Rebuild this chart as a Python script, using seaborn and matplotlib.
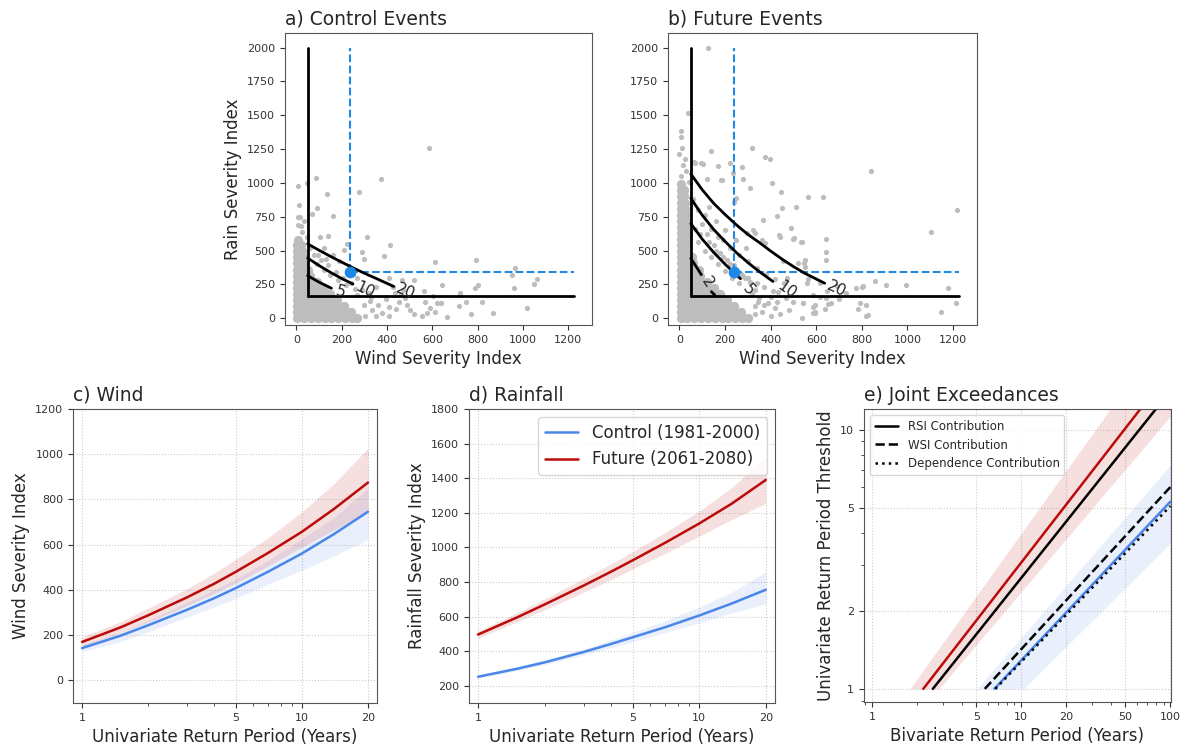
import seaborn as sns
import matplotlib.pyplot as plt
from matplotlib.ticker import FixedLocator, ScalarFormatter, NullFormatter

# ---------------- data ----------------
# a) control events: dense core near the origin, written row by row
#    (rain value -> wind values), drawn with bigger markers
ctrl_core = {
    0: [5, 35, 65, 95, 125, 155, 185, 215, 245, 270],
    45: [5, 35, 65, 95, 125, 155, 185, 215, 240],
    90: [5, 35, 65, 95, 125, 155, 185, 210],
    135: [5, 35, 65, 95, 125, 155, 180],
    180: [5, 35, 65, 95, 125, 150],
    225: [5, 35, 65, 95, 120],
    270: [5, 35, 65, 90],
    315: [5, 35, 60],
    360: [5, 30, 50],
    405: [5, 30],
    450: [5, 28],
    495: [5, 25],
    540: [5, 22],
    575: [8],
}
ctrl_outliers = [
    (584, 1256), (374, 1030), (88, 1039), (135, 916), (275, 931), (6, 980),
    (47, 1000), (91, 813), (70, 770), (162, 756), (6, 750), (8, 690), (20, 685),
    (106, 603), (312, 603), (415, 542), (385, 463), (289, 492), (300, 440),
    (209, 505), (224, 549), (142, 610), (610, 414), (793, 431), (966, 374),
    (951, 320), (959, 222), (1062, 288), (1050, 251), (1017, 74), (804, 246),
    (790, 222), (643, 244), (723, 185), (750, 123), (819, 123), (868, 41),
    (772, 32), (720, 93), (667, 12), (562, 204), (605, 167), (620, 111),
    (638, 115), (591, 74), (576, 41), (613, 49), (554, 17), (10, 837), (18, 751),
    (407, 296), (466, 283), (518, 283), (569, 123), (437, 185), (473, 209),
    (407, 86), (455, 120), (500, 60), (480, 150), (520, 30), (350, 230),
    (330, 160), (270, 300), (250, 330), (190, 420), (160, 470), (120, 520),
    (380, 40), (410, 15), (440, 70), (460, 180), (490, 100), (360, 100),
    (395, 140), (425, 230), (35, 720), (25, 640),
    (305, 20), (335, 60), (300, 100), (325, 130), (270, 170), (290, 210),
    (240, 260), (205, 300), (175, 345), (140, 390), (110, 430), (80, 470),
    (60, 520), (45, 600), (260, 215), (220, 245), (185, 280), (150, 320),
    (120, 360), (90, 400), (350, 20), (320, 190), (95, 470), (130, 440),
]

# b) future events
fut_core = {
    0: [5, 35, 65, 95, 125, 155, 185, 215, 245, 275, 300],
    45: [5, 35, 65, 95, 125, 155, 185, 215, 245, 270],
    90: [5, 35, 65, 95, 125, 155, 185, 215, 240],
    135: [5, 35, 65, 95, 125, 155, 185, 210],
    180: [5, 35, 65, 95, 125, 155, 180],
    225: [5, 35, 65, 95, 125, 150],
    270: [5, 35, 65, 95, 120],
    315: [5, 35, 65, 90],
    360: [5, 35, 60, 85],
    405: [5, 35, 60],
    450: [5, 32, 55],
    495: [5, 30],
    540: [5, 30],
    585: [5, 30],
    630: [5, 30],
    675: [5, 30],
    720: [5, 28],
    765: [5, 28],
    810: [5, 25],
    855: [5, 25],
    900: [5, 22],
    945: [5, 20],
    990: [8],
}
fut_outliers = [
    (127, 2000), (39, 1520), (7, 1387), (9, 1343), (0, 1214), (139, 1239),
    (317, 1256), (375, 1194), (395, 1175), (69, 1146), (104, 1141), (170, 1126),
    (221, 1146), (273, 1121), (234, 1076), (405, 998), (280, 1030), (123, 1030),
    (186, 1020), (241, 862), (445, 934), (565, 894), (628, 894), (840, 1091),
    (1105, 640), (1218, 800), (511, 820), (448, 813), (368, 727), (429, 756),
    (499, 584), (438, 616), (641, 584), (641, 488), (641, 431), (295, 628),
    (324, 650), (363, 578), (551, 431), (470, 296), (565, 288), (616, 259),
    (689, 239), (799, 229), (857, 276), (905, 246), (993, 246), (1178, 222),
    (1212, 115), (1146, 49), (791, 115), (818, 98), (818, 17), (828, 22),
    (663, 111), (640, 69), (594, 41), (536, 0), (587, 172), (647, 201),
    (536, 566), (546, 406), (558, 263), (774, 222), (806, 239), (785, 67),
    (701, 140), (653, 106), (616, 160), (587, 86), (587, 42), (543, 111),
    (729, 189), (308, 961), (250, 891), (488, 665), (502, 591), (440, 603),
    (532, 566), (374, 554), (333, 633), (454, 426), (520, 406), (549, 381),
    (286, 296), (432, 197), (469, 148), (389, 111), (418, 74), (542, 115),
    (593, 98), (593, 49), (644, 148), (64, 1157), (96, 1146), (181, 1022),
    (8, 1050), (30, 1090), (15, 1130), (40, 1010), (25, 1180), (12, 1260),
    (80, 560), (110, 500), (140, 450), (170, 400), (200, 350), (230, 300),
    (260, 260), (90, 620), (130, 560), (160, 500), (190, 450), (220, 400),
    (250, 350), (280, 310), (310, 270), (120, 620), (150, 540), (180, 480),
    (210, 430), (240, 390), (270, 330), (300, 300), (340, 260), (70, 660),
    (100, 700), (140, 660), (190, 580), (220, 520), (260, 470), (300, 420),
    (340, 370), (380, 330), (420, 290), (460, 260), (330, 210), (370, 230),
    (410, 200), (350, 150), (400, 160), (430, 120), (330, 90), (360, 50),
    (400, 20), (440, 30), (110, 760), (160, 720), (80, 800), (60, 880),
    (130, 820), (200, 650), (170, 600), (250, 580), (290, 520), (320, 180),
    (345, 120), (330, 30), (480, 60), (500, 120), (370, 100),
]

# threshold lines and design event
wsi_thr, rsi_thr = 50, 165
event_wsi, event_rsi = 238, 340
axis_max_wsi, axis_max_rsi = 1225, 2000

# joint return-period contours (label -> wind, rain)
ctrl_contours = {
    '5': ([50, 100, 155], [315, 267, 222]),
    '10': ([50, 100, 150, 200, 250], [445, 390, 340, 294, 253]),
    '20': ([50, 100, 150, 200, 250, 300, 350, 400, 430],
           [550, 503, 458, 415, 373, 333, 296, 258, 235]),
}
ctrl_labels = {'5': (194, 197, -15), '10': (304, 209, -25), '20': (484, 197, -22)}
fut_contours = {
    '2': ([50, 75, 96], [443, 378, 322]),
    '2b': ([140, 155], [197, 172]),
    '5': ([50, 100, 150, 200, 250, 268], [700, 585, 487, 400, 320, 292]),
    '10': ([50, 100, 150, 200, 250, 300, 350, 410],
           [887, 762, 657, 568, 485, 412, 345, 272]),
    '20': ([50, 100, 150, 200, 250, 300, 350, 400, 450, 500, 550, 600, 637],
           [1067, 950, 850, 767, 690, 620, 560, 497, 437, 382, 332, 290, 259]),
}
fut_labels = {'2': (123, 263, -55), '5': (301, 214, -50),
              '10': (469, 209, -35), '20': (688, 214, -25)}

# c) wind and d) rainfall return levels
periods = [1, 1.5, 2, 3, 4, 5, 7, 10, 14, 20]
wind_ctrl = [143, 198, 244, 312, 364, 408, 480, 561, 647, 746]
wind_ctrl_lo = [128, 172, 215, 280, 325, 363, 425, 487, 550, 623]
wind_ctrl_hi = [157, 212, 265, 345, 400, 448, 530, 625, 720, 850]
wind_fut = [170, 235, 288, 367, 428, 480, 563, 657, 758, 875]
wind_fut_lo = [150, 210, 258, 330, 385, 430, 505, 590, 665, 745]
wind_fut_hi = [192, 260, 320, 405, 475, 535, 630, 745, 870, 1027]

rain_ctrl = [252, 298, 335, 395, 442, 480, 538, 606, 675, 755]
rain_ctrl_lo = [242, 287, 322, 378, 420, 455, 507, 565, 620, 674]
rain_ctrl_hi = [262, 310, 350, 412, 465, 508, 575, 655, 740, 858]
rain_fut = [496, 595, 670, 779, 860, 925, 1026, 1138, 1252, 1390]
rain_fut_lo = [476, 570, 640, 740, 815, 875, 965, 1065, 1160, 1254]
rain_fut_hi = [516, 622, 702, 820, 905, 975, 1085, 1210, 1345, 1521]

# e) joint exceedances: (bivariate return period, univariate threshold)
fut_total = ([2.2, 62.9], [1, 12])
rsi_contrib = ([2.55, 80], [1, 12])
ctrl_total = ([6.6, 100], [1, 5.27])
wsi_contrib = ([5.69, 100], [1, 6.0])
dep_contrib = ([6.7, 100], [1, 5.07])
band_thr = [1, 12]
fut_band_lo, fut_band_hi = [1.79, 39.5], [2.8, 110]
ctrl_band_lo, ctrl_band_hi = [5.03, 212], [10.4, 800]

# ---------------- style ----------------
sns.set_style('ticks')
plt.rcParams['font.family'] = ['DejaVu Sans']
plt.rcParams['axes.edgecolor'] = '#555555'
plt.rcParams['xtick.color'] = '#333333'
plt.rcParams['ytick.color'] = '#333333'
plt.rcParams['xtick.labelsize'] = 8
plt.rcParams['ytick.labelsize'] = 8

BLUE = '#4a86e8'
RED = '#bb0a0a'
DASH_BLUE = '#1e88e5'
GREY = '#bdbdbd'
TITLE_FS = 13.5
LABEL_FS = 12

fig = plt.figure(figsize=(11.84, 7.46), dpi=100)
ax_a = fig.add_axes([0.2407, 0.5643, 0.2593, 0.3914])
ax_b = fig.add_axes([0.5642, 0.5643, 0.2610, 0.3914])
ax_c = fig.add_axes([0.0617, 0.0576, 0.2568, 0.3941])
ax_d = fig.add_axes([0.3961, 0.0576, 0.2584, 0.3941])
ax_e = fig.add_axes([0.7297, 0.0590, 0.2593, 0.3927])


def events_panel(ax, core, outliers, contours, labels, title, ylabel):
    core_x = [w for rain, winds in core.items() for w in winds]
    core_y = [rain for rain, winds in core.items() for w in winds]
    out_x = [w for w, r in outliers]
    out_y = [r for w, r in outliers]
    sns.scatterplot(x=core_x, y=core_y, color=GREY, s=45, linewidth=0, ax=ax, zorder=1)
    sns.scatterplot(x=out_x, y=out_y, color=GREY, s=14, linewidth=0, ax=ax, zorder=1)
    ax.plot([wsi_thr, wsi_thr], [rsi_thr, axis_max_rsi], color='black', lw=2)
    ax.plot([wsi_thr, axis_max_wsi], [rsi_thr, rsi_thr], color='black', lw=2)
    ax.plot([event_wsi, event_wsi], [event_rsi, axis_max_rsi], color=DASH_BLUE, lw=1.5, ls='--')
    ax.plot([event_wsi, axis_max_wsi], [event_rsi, event_rsi], color=DASH_BLUE, lw=1.5, ls='--')
    for cx, cy in contours.values():
        ax.plot(cx, cy, color='black', lw=2)
    for lab, (lx, ly, rot) in labels.items():
        ax.text(lx, ly, lab, rotation=rot, ha='center', va='center', fontsize=11)
    ax.scatter([event_wsi], [event_rsi], color=DASH_BLUE, s=55, zorder=5)
    ax.set_xlim(-50, 1305)
    ax.set_ylim(-50, 2108)
    ax.set_xticks(range(0, 1201, 200))
    ax.set_yticks(range(0, 2001, 250))
    ax.set_title(title, loc='left', fontsize=TITLE_FS)
    ax.set_xlabel('Wind Severity Index', fontsize=LABEL_FS)
    ax.set_ylabel(ylabel, fontsize=LABEL_FS)


events_panel(ax_a, ctrl_core, ctrl_outliers, ctrl_contours, ctrl_labels,
             'a) Control Events', 'Rain Severity Index')
events_panel(ax_b, fut_core, fut_outliers, fut_contours, fut_labels,
             'b) Future Events', '')


def log_ticks(axis, ticks):
    axis.set_major_locator(FixedLocator(ticks))
    axis.set_major_formatter(ScalarFormatter())
    axis.set_minor_formatter(NullFormatter())


def level_panel(ax, ctrl, ctrl_lo, ctrl_hi, fut, fut_lo, fut_hi, title, ylabel, ylim, yticks, legend):
    ax.set_xscale('log')
    ax.fill_between(periods, ctrl_lo, ctrl_hi, color=BLUE, alpha=0.12, lw=0)
    ax.fill_between(periods, fut_lo, fut_hi, color=RED, alpha=0.13, lw=0)
    sns.lineplot(x=periods, y=ctrl, color=BLUE, lw=1.8, ax=ax,
                 label='Control (1981-2000)' if legend else None)
    sns.lineplot(x=periods, y=fut, color=RED, lw=1.8, ax=ax,
                 label='Future (2061-2080)' if legend else None)
    ax.set_xlim(0.91, 22)
    ax.set_ylim(*ylim)
    log_ticks(ax.xaxis, [1, 5, 10, 20])
    ax.set_yticks(yticks)
    ax.grid(True, which='major', ls=':', color='#cccccc', lw=0.8)
    ax.set_title(title, loc='left', fontsize=TITLE_FS)
    ax.set_xlabel('Univariate Return Period (Years)', fontsize=LABEL_FS)
    ax.set_ylabel(ylabel, fontsize=LABEL_FS)
    if legend:
        ax.legend(loc='upper right', fontsize=12)


level_panel(ax_c, wind_ctrl, wind_ctrl_lo, wind_ctrl_hi, wind_fut, wind_fut_lo, wind_fut_hi,
            'c) Wind', 'Wind Severity Index', (-100, 1200), range(0, 1201, 200), False)
level_panel(ax_d, rain_ctrl, rain_ctrl_lo, rain_ctrl_hi, rain_fut, rain_fut_lo, rain_fut_hi,
            'd) Rainfall', 'Rainfall Severity Index', (100, 1800), range(200, 1801, 200), True)

# e) joint exceedances
ax_e.set_xscale('log')
ax_e.set_yscale('log')
ax_e.fill_betweenx(band_thr, fut_band_lo, fut_band_hi, color=RED, alpha=0.13, lw=0)
ax_e.fill_betweenx(band_thr, ctrl_band_lo, ctrl_band_hi, color=BLUE, alpha=0.12, lw=0)
ax_e.plot(*fut_total, color=RED, lw=1.8)
ax_e.plot(*ctrl_total, color=BLUE, lw=1.8)
ax_e.plot(*rsi_contrib, color='black', lw=1.8, label='RSI Contribution')
ax_e.plot(*wsi_contrib, color='black', lw=1.8, ls='--', label='WSI Contribution')
ax_e.plot(*dep_contrib, color='black', lw=1.8, ls=':', label='Dependence Contribution')
ax_e.set_xlim(0.88, 101)
ax_e.set_ylim(0.89, 12)
log_ticks(ax_e.xaxis, [1, 5, 10, 20, 50, 100])
log_ticks(ax_e.yaxis, [1, 2, 5, 10])
ax_e.grid(True, which='major', ls=':', color='#cccccc', lw=0.8)
ax_e.set_title('e) Joint Exceedances', loc='left', fontsize=TITLE_FS)
ax_e.set_xlabel('Bivariate Return Period (Years)', fontsize=LABEL_FS)
ax_e.set_ylabel('Univariate Return Period Threshold', fontsize=LABEL_FS)
ax_e.legend(loc='upper left', fontsize=8.5)

fig.savefig('out.png', dpi=100)
